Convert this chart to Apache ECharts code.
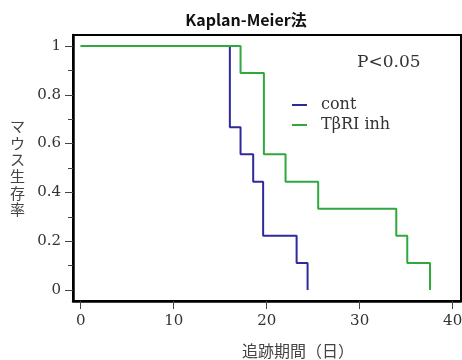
<!DOCTYPE html>
<html>
<head>
<meta charset="utf-8">
<script src="https://cdn.jsdelivr.net/npm/echarts@6/dist/echarts.min.js"></script>
<style>
html,body{margin:0;padding:0;background:#fff;}
#chart{width:462px;height:360px;}
</style>
</head>
<body>
<div id="chart"></div>
<script>
// ---- data ----
var seriesNames = ['cont', 'TβRI inh'];
var contTimes = [0, 16.04, 17.19, 18.55, 19.62, 23.22, 24.4];
var contSurv  = [1, 0.667, 0.556, 0.444, 0.222, 0.111, 0];
var inhTimes  = [0, 17.19, 19.7, 22.03, 25.54, 33.94, 35.12, 37.57];
var inhSurv   = [1, 0.889, 0.556, 0.444, 0.333, 0.222, 0.111, 0];
var xTickValues = [0, 10, 20, 30, 40];
var yTickValues = [0, 0.2, 0.4, 0.6, 0.8, 1];
var yMinorTickValues = [0.1, 0.3, 0.5, 0.7, 0.9];
var titleText = 'Kaplan-Meier法';
var pValueText = 'P<0.05';
var xAxisName = '追跡期間（日）';
var yAxisName = 'マウス生存率';

function pairs(xs, ys) { return xs.map(function (x, i) { return [x, ys[i]]; }); }

var serif = 'DejaVu Serif';
var chart = echarts.init(document.getElementById('chart'));
chart.setOption({
  backgroundColor: '#fff',
  animation: false,
  title: [
    { text: titleText, left: 241, top: 7, textAlign: 'center',
      textStyle: { fontFamily: 'Noto Sans CJK JP', fontWeight: 'bold', fontSize: 16, color: '#111' } },
    { text: pValueText, left: 352, top: 49,
      textStyle: { fontFamily: serif, fontWeight: 'normal', fontSize: 17, color: '#333' } }
  ],
  legend: {
    orient: 'vertical', left: 287, top: 92, itemGap: 4,
    icon: 'rect', itemWidth: 15, itemHeight: 2,
    textStyle: { fontFamily: serif, fontSize: 16, color: '#333', padding: [0, 0, 0, 9] },
    data: seriesNames
  },
  grid: { left: 73, right: 1, top: 35, bottom: 59, containLabel: false, outerBoundsMode: 'none',
          show: true, borderColor: '#000', borderWidth: 2 },
  xAxis: {
    type: 'value', min: -0.83, max: 40.9,
    name: xAxisName, nameLocation: 'middle', nameGap: 42,
    nameTextStyle: { fontFamily: 'Noto Sans CJK JP', fontSize: 16, color: '#444', padding: [0, 0, 0, 62] },
    axisLine: { onZero: false, lineStyle: { color: '#000', width: 2.5 } },
    axisTick: { customValues: xTickValues, length: 8, lineStyle: { color: '#444' } },
    axisLabel: { customValues: xTickValues, margin: 13, fontFamily: serif, fontSize: 15, color: '#333' },
    splitLine: { show: false }
  },
  yAxis: [
    { type: 'value', min: -0.045, max: 1.045,
      name: yAxisName.split('').join('\n'), nameLocation: 'middle', nameRotate: 0, nameGap: 48,
      nameTextStyle: { fontFamily: 'Noto Sans CJK JP', fontSize: 15, lineHeight: 16.7, color: '#444', padding: [0, 0, 25, 0] },
      axisLine: { onZero: false, lineStyle: { color: '#000', width: 2.5 } },
      axisTick: { customValues: yTickValues, length: 8, lineStyle: { color: '#444' } },
      axisLabel: { customValues: yTickValues, margin: 12, fontFamily: serif, fontSize: 15, color: '#333' },
      splitLine: { show: false } },
    { type: 'value', min: -0.045, max: 1.045, position: 'left',
      axisLine: { show: false, onZero: false },
      axisTick: { customValues: yMinorTickValues, length: 5, lineStyle: { color: '#444' } },
      axisLabel: { show: false },
      splitLine: { show: false } }
  ],
  series: [
    { name: seriesNames[0], type: 'line', step: 'end', symbol: 'none',
      data: pairs(contTimes, contSurv),
      lineStyle: { color: '#2e2a9c', width: 2 }, itemStyle: { color: '#2e2a9c' } },
    { name: seriesNames[1], type: 'line', step: 'end', symbol: 'none',
      data: pairs(inhTimes, inhSurv),
      lineStyle: { color: '#2fa83e', width: 2 }, itemStyle: { color: '#2fa83e' } }
  ]
});
</script>
</body>
</html>
